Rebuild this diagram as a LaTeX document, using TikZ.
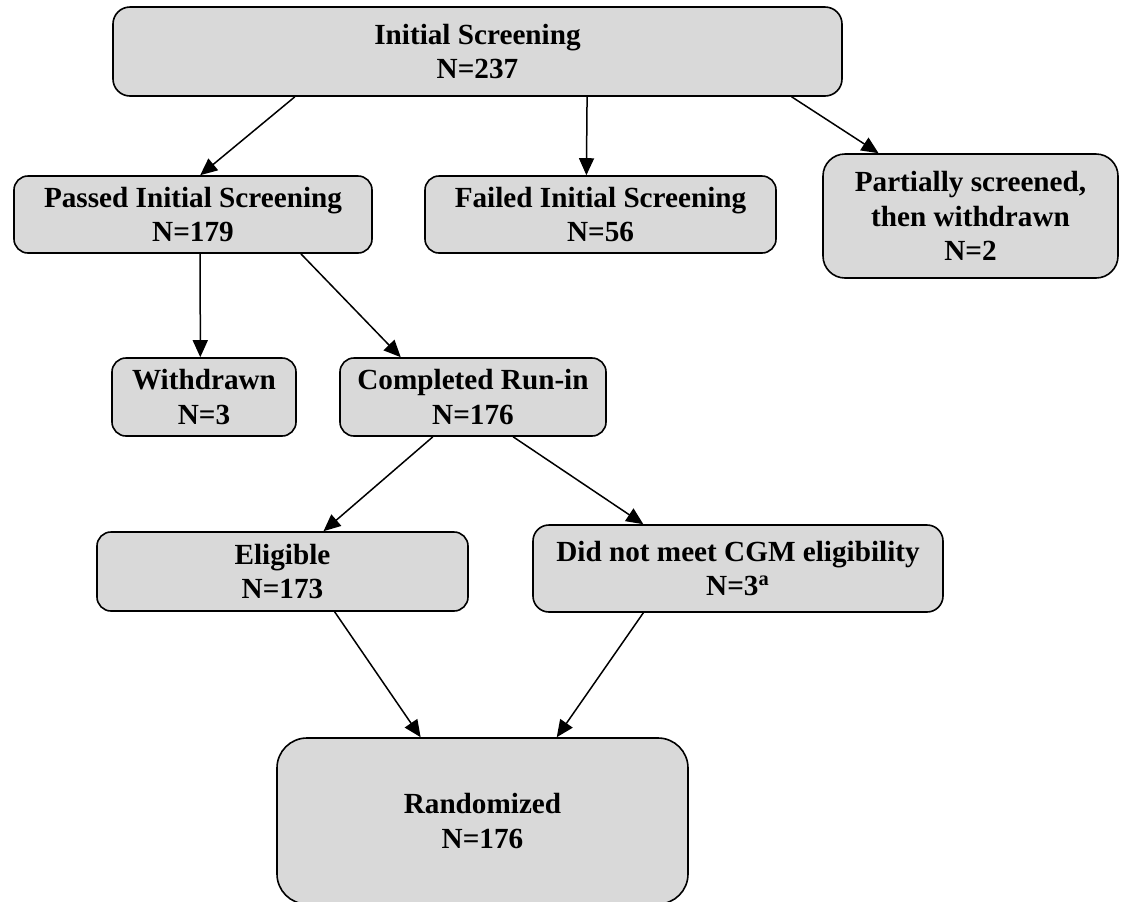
\documentclass[tikz,border=0pt]{standalone}
\usepackage{fontspec}
\setmainfont{Liberation Serif}
\usepackage{xcolor}
\usepackage{tikz}
\usetikzlibrary{arrows.meta,calc}
\definecolor{boxgray}{HTML}{D9D9D9}

\begin{document}
\begin{tikzpicture}[x=0.5pt, y=-0.5pt, every node/.style={align=center}, font=\fontsize{14.6}{17.2}\selectfont\bfseries]
\tikzset{
  box/.style={draw, line width=0.8pt, fill=boxgray, rounded corners=7pt, inner sep=0pt},
  flow/.style={-{Triangle[length=8.5pt, width=7.5pt]}, line width=0.75pt}
}
\useasboundingbox (0,0) rectangle (1126,901);
\node[box, rounded corners=8.5pt, minimum width=364.5pt, minimum height=44.5pt] (init) at (477.5,51.5) {Initial Screening\\N=237};
\node[box, minimum width=179pt, minimum height=38.5pt] (passed) at (193,214.5) {Passed Initial Screening\\N=179};
\node[box, minimum width=175.5pt, minimum height=38.5pt] (failed) at (600.5,214.5) {Failed Initial Screening\\N=56};
\node[box, rounded corners=11pt, minimum width=147.5pt, minimum height=62pt] (partial) at (970.5,216) {Partially screened,\\then withdrawn\\N=2};
\node[box, minimum width=92pt, minimum height=39pt] (withdrawn) at (204,397) {Withdrawn\\N=3};
\node[box, minimum width=133pt, minimum height=39pt] (runin) at (473,397) {Completed Run-in\\N=176};
\node[box, minimum width=185.5pt, minimum height=39.5pt] (eligible) at (282.5,571.5) {Eligible\\N=173};
\node[box, rounded corners=8pt, minimum width=205pt, minimum height=43.5pt] (notmet) at (738,568.5) {Did not meet CGM eligibility\\N=3\textsuperscript{a}};
\node[box, rounded corners=15pt, minimum width=205.5pt, minimum height=83pt] (random) at (482.5,821) {Randomized\\N=176};
\draw[flow] ($(init.south west)!0.25!(init.south east)$) -- ($(passed.north west)!0.52!(passed.north east)$);
\draw[flow] ($(init.south west)!0.65!(init.south east)$) -- ($(failed.north west)!0.46!(failed.north east)$);
\draw[flow] ($(init.south west)!0.93!(init.south east)$) -- ($(partial.north west)!0.19!(partial.north east)$);
\draw[flow] ($(passed.south west)!0.52!(passed.south east)$) -- ($(withdrawn.north west)!0.48!(withdrawn.north east)$);
\draw[flow] ($(passed.south west)!0.8!(passed.south east)$) -- ($(runin.north west)!0.23!(runin.north east)$);
\draw[flow] ($(runin.south west)!0.35!(runin.south east)$) -- ($(eligible.north west)!0.61!(eligible.north east)$);
\draw[flow] ($(runin.south west)!0.65!(runin.south east)$) -- ($(notmet.north west)!0.27!(notmet.north east)$);
\draw[flow] ($(eligible.south west)!0.64!(eligible.south east)$) -- ($(random.north west)!0.35!(random.north east)$);
\draw[flow] ($(notmet.south west)!0.27!(notmet.south east)$) -- ($(random.north west)!0.68!(random.north east)$);
\end{tikzpicture}
\end{document}
